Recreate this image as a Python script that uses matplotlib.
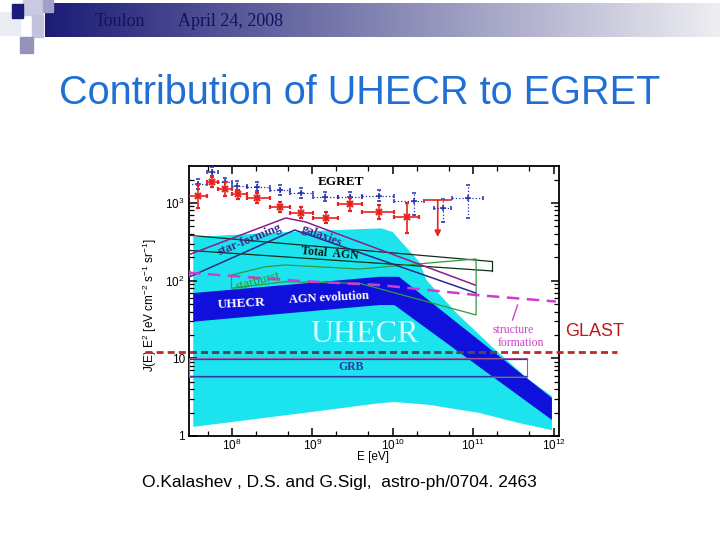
import matplotlib
matplotlib.use("Agg")
import matplotlib.pyplot as plt
import numpy as np
from matplotlib.lines import Line2D
from matplotlib.patches import Rectangle
from matplotlib.ticker import FuncFormatter, LogLocator, NullFormatter
from matplotlib.transforms import Bbox, TransformedBbox

plt.rcParams["font.family"] = ["Liberation Sans", "DejaVu Sans"]
plt.rcParams["mathtext.fontset"] = "custom"
plt.rcParams["mathtext.rm"] = "Liberation Sans"
plt.rcParams["mathtext.it"] = "Liberation Sans:italic"
plt.rcParams["mathtext.bf"] = "Liberation Sans:bold"

# EGRET data, red set (E in eV, J E^2 in eV cm^-2 s^-1 sr^-1)
red_E = [3.75e7, 5.7e7, 8.2e7, 1.2e8, 2.08e8, 3.94e8, 7.18e8, 1.47e9, 2.94e9, 6.67e9, 1.51e10]
red_Elo = [2.6e7, 4.9e7, 6.7e7, 1.0e8, 1.53e8, 2.96e8, 5.25e8, 1.01e9, 2.07e9, 4.1e9, 1.05e10]
red_Ehi = [4.9e7, 6.7e7, 1.0e8, 1.53e8, 2.96e8, 5.25e8, 1.01e9, 2.07e9, 4.1e9, 1.05e10, 2.15e10]
red_J = [1227, 1875, 1510, 1291, 1146, 878, 748, 645, 959, 757, 664]
red_Jlo = [860, 1603, 1227, 1122, 997, 764, 639, 551, 787, 621, 410]
red_Jhi = [1700, 2219, 1858, 1466, 1341, 1028, 885, 764, 1156, 940, 997]

# red upper limit
ul_E, ul_Elo, ul_Ehi = 3.63e10, 2.48e10, 5.37e10
ul_J, ul_Jend = 1090, 364

# EGRET data, blue set
blue_E = [3.75e7, 5.6e7, 8.2e7, 1.15e8, 2.08e8, 3.94e8, 7.3e8, 1.46e9, 2.94e9, 6.67e9, 1.83e10, 4.19e10, 8.55e10]
blue_Elo = [2.6e7, 4.9e7, 6.7e7, 1.0e8, 1.53e8, 2.96e8, 5.25e8, 1.01e9, 2.07e9, 4.1e9, 1.05e10, 3.3e10, 5.47e10]
blue_Ehi = [4.9e7, 6.7e7, 1.0e8, 1.53e8, 2.96e8, 5.25e8, 1.01e9, 2.07e9, 4.1e9, 1.05e10, 2.48e10, 5.37e10, 1.34e11]
blue_J = [1750, 2500, 1841, 1664, 1617, 1466, 1330, 1203, 1181, 1238, 1057, 853, 1167]
blue_Jlo = [1510, 2153, 1603, 1466, 1422, 1265, 1156, 1057, 1028, 1057, 699, 568, 639]
blue_Jhi = [2031, 2898, 2091, 1914, 1858, 1700, 1556, 1381, 1381, 1466, 1341, 1122, 1700]

# UHECR light band
cyan_up_E = [3.31e7, 4.8e8, 7.2e9, 1.0e10, 2.15e10, 2.62e10, 6.2e10, 1.73e11, 4.98e11, 9.55e11]
cyan_up_J = [364, 422, 471, 422, 173, 102, 38.3, 14.0, 5.26, 3.27]
cyan_lo_E = [3.31e7, 8.5e8, 6.6e9, 1.05e10, 2.9e10, 1.2e11, 3.7e11, 9.55e11]
cyan_lo_J = [1.31, 2.0, 2.63, 2.74, 2.51, 1.98, 1.47, 1.19]

# UHECR AGN evolution band
dark_up_E = [3.31e7, 6.9e9, 1.2e10, 9.55e11]
dark_up_J = [69.2, 112, 112, 3.08]
dark_lo_E = [3.31e7, 6.9e9, 1.05e10, 9.55e11]
dark_lo_J = [29.6, 48.5, 48.5, 1.61]

# star-forming galaxies
sfg_up_E = [2.84e7, 4.68e8, 8.28e8, 1.06e11]
sfg_up_J = [213, 640, 568, 87.7]
sfg_lo_E = [2.93e7, 6.05e8, 1.08e11]
sfg_lo_J = [111, 448, 69.2]

# total AGN band
agn_E = [2.93e7, 1.74e11]
agn_up_J = [383, 176]
agn_lo_J = [245, 133]

# starburst band
sb_up_E = [9.9e7, 2.56e8, 4.55e8, 3.87e9, 1.09e11]
sb_up_J = [118, 150, 159, 141, 190]
sb_lo_E = [9.9e7, 4.55e8, 3.87e9, 1.09e11]
sb_lo_J = [79.6, 96.8, 92.3, 36.1]

# structure formation
sf_E = [2.84e7, 6.98e8, 6.86e9, 1.09e11, 1.07e12]
sf_J = [126.5, 98.9, 87.7, 65.3, 53.8]

# GRB
grb_E = [2.93e7, 4.68e11]
grb_up_J = [9.9, 9.9]
grb_lo_J = [6.0, 6.0]
grb_box_J = [10.1, 5.8]

W, H = 720, 540


def fx(px):
    return px / W


def fy(py):
    return 1 - py / H


fig = plt.figure(figsize=(7.2, 5.4), dpi=100)
fig.patch.set_facecolor("white")

# slide header
bar = fig.add_axes([fx(45), fy(37), fx(720 - 45), 34 / H])
grad = np.linspace(0, 1, 256)
c0 = np.array([28, 28, 118]) / 255
c1 = np.array([238, 238, 242]) / 255
img = (c0[None, :] * (1 - grad[:, None]) + c1[None, :] * grad[:, None])[None, :, :]
bar.imshow(img, aspect="auto", extent=[0, 1, 0, 1])
bar.set_axis_off()

squares = [
    (0, 12, 20, 23, "#ececf5"),
    (23, 0, 19, 15, "#c9c9e2"),
    (43, 0, 10, 12, "#a0a0c8"),
    (12, 4, 11, 14, "#1c1c78"),
    (32, 15, 11, 22, "#c3c3de"),
    (20, 37, 13, 16, "#9494bb"),
]
for x0, y0, w, h, c in squares:
    fig.add_artist(Rectangle((fx(x0), fy(y0 + h)), w / W, h / H,
                             transform=fig.transFigure, color=c, zorder=3))

fig.text(fx(95), fy(21), "Toulon", family="Liberation Serif", fontsize=13,
         color="#12125c", va="center", ha="left", zorder=4)
fig.text(fx(178), fy(21), "April 24, 2008", family="Liberation Serif", fontsize=13,
         color="#12125c", va="center", ha="left", zorder=4)

fig.text(fx(360), fy(93), "Contribution of UHECR to EGRET", fontsize=28.5,
         color="#1f6fd4", ha="center", va="center")

# plot
ax = fig.add_axes([fx(189), fy(436), fx(559 - 189), (436 - 166) / H])
ax.set_xscale("log")
ax.set_yscale("log")
ax.set_xlim(10 ** 7.467, 10 ** 12.068)
ax.set_ylim(1, 10 ** 3.475)

ax.fill(cyan_up_E + cyan_lo_E[::-1], cyan_up_J + cyan_lo_J[::-1],
        color="#1ce4ef", lw=0, zorder=1)
ax.fill(dark_up_E + dark_lo_E[::-1], dark_up_J + dark_lo_J[::-1],
        color="#1010dc", lw=0, zorder=2)

ax.text(4.47e9, 20, "UHECR", family="Liberation Serif", fontsize=23,
        color="#d6ffff", ha="center", va="center", zorder=3)

# GRB
ax.plot(grb_E, grb_up_J, color="#2a3aa8", lw=0.9, zorder=3)
ax.plot(grb_E, grb_lo_J, color="#2a3aa8", lw=0.9, zorder=3)
ax.fill([grb_E[0], grb_E[0], grb_E[1], grb_E[1]],
        [grb_box_J[0], grb_box_J[1], grb_box_J[1], grb_box_J[0]],
        facecolor="none", edgecolor="#9a5aa0", lw=0.8, zorder=3)

# source lines
ax.plot(agn_E, agn_up_J, color="#10301c", lw=0.9, zorder=3)
ax.plot(agn_E, agn_lo_J, color="#10301c", lw=0.9, zorder=3)
ax.plot([agn_E[1], agn_E[1]], [agn_lo_J[1], agn_up_J[1]], color="#10301c", lw=0.9, zorder=3)
ax.fill(sb_up_E + sb_lo_E[::-1], sb_up_J + sb_lo_J[::-1],
        facecolor="none", edgecolor="#2f9a3a", lw=0.9, zorder=3)
ax.plot(sfg_up_E, sfg_up_J, color="#8a1f8a", lw=1.1, zorder=3)
ax.plot(sfg_lo_E, sfg_lo_J, color="#2a2a8c", lw=1.1, zorder=3)
ax.plot(sf_E, sf_J, color="#d23ad2", lw=1.8, ls=(0, (5, 3)), zorder=3)
ax.plot(sf_E[0], sf_J[0], "o", color="#d23ad2", ms=3.5, zorder=3)

# EGRET points
eb = ax.errorbar(blue_E, blue_J,
                 xerr=[np.subtract(blue_E, blue_Elo), np.subtract(blue_Ehi, blue_E)],
                 yerr=[np.subtract(blue_J, blue_Jlo), np.subtract(blue_Jhi, blue_J)],
                 fmt="+", color="#2030b0", ms=5, mew=1.1, elinewidth=0.9,
                 capsize=1.5, capthick=0.9, zorder=5)
for lc in eb[2]:
    lc.set_linestyle(":")
ax.errorbar(red_E, red_J,
            xerr=[np.subtract(red_E, red_Elo), np.subtract(red_Ehi, red_E)],
            yerr=[np.subtract(red_J, red_Jlo), np.subtract(red_Jhi, red_J)],
            fmt="x", color="#e5241f", ms=4, mew=1.6, elinewidth=1.2,
            capsize=1.5, capthick=1.0, zorder=6)
ax.plot([ul_Elo, ul_Ehi], [ul_J, ul_J], color="#e5241f", lw=1.2, zorder=6)
ax.annotate("", xy=(ul_E, ul_Jend), xytext=(ul_E, ul_J), zorder=6,
            arrowprops=dict(arrowstyle="-|>", color="#e5241f", lw=1.2,
                            mutation_scale=9, shrinkA=0, shrinkB=0))

# labels in plot
serif = "Liberation Serif"
ax.text(2.25e9, 1860, "EGRET", family=serif, fontsize=9.5, weight="bold",
        ha="center", va="center", zorder=7)
ax.text(1.67e8, 333, "star-forming", family=serif, fontsize=9, weight="bold",
        color="#3b2a8c", rotation=22, ha="center", va="center", zorder=7)
ax.text(1.31e9, 375, "galaxies", family=serif, fontsize=9, weight="bold",
        color="#3b2a8c", rotation=-21, ha="center", va="center", zorder=7)
ax.text(1.64e9, 220, "Total  AGN", family=serif, fontsize=8.5, weight="bold",
        color="#0a1a10", rotation=-5, ha="center", va="center", zorder=7)
ax.text(2.1e8, 99, "starburst", family=serif, fontsize=9.5,
        color="#2a9a2a", rotation=15, ha="center", va="center", zorder=7)
ax.text(1.33e8, 50, "UHECR", family=serif, fontsize=9.5, weight="bold",
        color="white", rotation=3, ha="center", va="center", zorder=7)
ax.text(1.6e9, 59.7, "AGN evolution", family=serif, fontsize=9, weight="bold",
        color="white", rotation=3, ha="center", va="center", zorder=7)
ax.text(3.08e9, 7.73, "GRB", family=serif, fontsize=8.5, weight="bold",
        color="#2a3aa0", ha="center", va="center", zorder=7)
ax.text(3.16e11, 23.1, "structure", family=serif, fontsize=8.5,
        color="#d040c8", ha="center", va="center", zorder=7)
ax.text(3.96e11, 15.7, "formation", family=serif, fontsize=8.5,
        color="#d040c8", ha="center", va="center", zorder=7)
ax.plot([3.09e11, 3.57e11], [31.1, 48.5], color="#d040c8", lw=1.0, zorder=7)

# axes styling
for sp in ax.spines.values():
    sp.set_linewidth(1.3)
ax.xaxis.set_major_locator(LogLocator(base=10, numticks=10))
ax.xaxis.set_minor_locator(LogLocator(base=10, subs=(2.0, 5.0), numticks=10))
ax.xaxis.set_minor_formatter(NullFormatter())
ax.yaxis.set_major_locator(LogLocator(base=10, numticks=10))
ax.yaxis.set_minor_locator(LogLocator(base=10, subs=np.arange(2, 10), numticks=10))
ax.yaxis.set_minor_formatter(NullFormatter())
ax.yaxis.set_major_formatter(FuncFormatter(
    lambda v, p: {1: "1", 10: "10"}.get(int(round(v)), r"$10^{%d}$" % round(np.log10(v)))))
ax.tick_params(which="both", direction="in", top=True, right=True, labelsize=8.5)
ax.tick_params(which="major", length=6, width=1.1)
ax.tick_params(which="minor", length=3.5, width=0.9)
ax.tick_params(axis="x", which="major", pad=1.5)
ax.tick_params(axis="y", which="major", pad=3)

fig.text(fx(150), fy(305), r"J(E) E$^2$ [eV cm$^{-2}$ s$^{-1}$ sr$^{-1}$]",
         rotation=90, fontsize=8.5, ha="center", va="center")
fig.text(fx(373), fy(457), "E [eV]", fontsize=8.5, ha="center", va="center")

# GLAST sensitivity line
glast_y = fy(352)
fig.add_artist(Line2D([fx(145), fx(617)], [glast_y, glast_y], transform=fig.transFigure,
                      color="#c02828", lw=2, ls=(0, (2.5, 1.5)), zorder=5))
grey = Line2D([fx(145), fx(617)], [glast_y, glast_y], transform=fig.transFigure,
              color="#4a4a50", lw=2, ls=(0, (2.5, 1.5)), zorder=6)
grey.set_clip_box(TransformedBbox(Bbox([[fx(193), 0], [fx(497), 1]]), fig.transFigure))
fig.add_artist(grey)
fig.text(fx(565), fy(332), "GLAST", fontsize=13, color="#c01818", ha="left", va="center")

fig.text(fx(142), fy(483), "O.Kalashev , D.S. and G.Sigl,  astro-ph/0704. 2463",
         fontsize=12.5, ha="left", va="center")

fig.savefig("out.png", dpi=100)
